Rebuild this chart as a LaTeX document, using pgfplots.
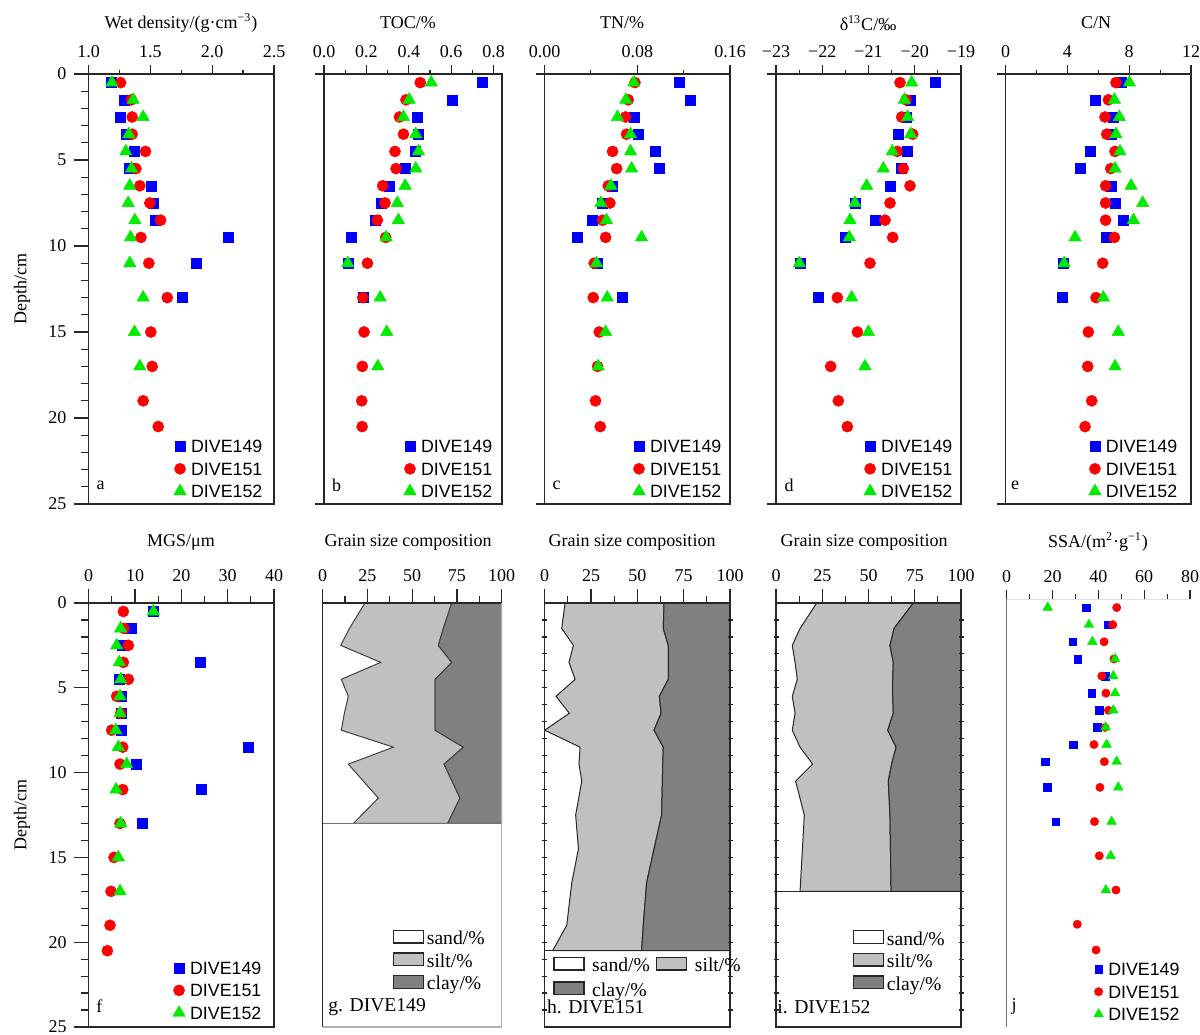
\documentclass[border=0pt]{standalone}
\usepackage{fontspec}
\setmainfont{Liberation Serif}
\setsansfont{Liberation Sans}
\usepackage{pgfplots}
\pgfplotsset{compat=1.18}
\definecolor{mblue}{RGB}{0,0,255}
\definecolor{mred}{RGB}{255,0,0}
\definecolor{mgreen}{RGB}{0,235,0}
\definecolor{silt}{RGB}{192,192,192}
\definecolor{clay}{RGB}{128,128,128}
\newcommand\tf{\fontsize{9pt}{10.5pt}\selectfont}
\newcommand\lf{\sffamily\fontsize{8.9pt}{10pt}\selectfont}
\newcommand\gf{\fontsize{9.8pt}{11pt}\selectfont}
\pgfplotsset{
 base/.style={scale only axis, anchor=north west, y dir=reverse, ymin=0, ymax=25,
   axis line style={line width=0.7pt, black!85}, tick style={line width=0.6pt, black!85},
   xtick pos=top, xticklabel pos=upper, ytick pos=left, tick align=outside, ytick=\empty,
   ticklabel style={font=\tf}, clip=false, minor x tick num=1},
 toprow/.style={base, height=215pt, major tick length=4.5pt, minor tick length=2.25pt},
 botrow/.style={base, height=212pt, major tick length=7pt, minor tick length=3.5pt},
 s149/.style={only marks, mark=square*, mark size=2.5pt, color=mblue, mark options={line width=0.2pt}},
 s151/.style={only marks, mark=*, mark size=2.8pt, color=mred, mark options={line width=0.2pt}},
 s152/.style={only marks, mark=triangle*, mark size=3.6pt, color=mgreen, mark options={line width=0.2pt}},
 sleg/.style={legend image code/.code={\draw[##1] plot coordinates {(0pt,0pt)};},
   legend cell align=left,
   legend style={draw=none, fill=none, inner sep=0pt, outer sep=0pt, font=\lf, row sep=2.75pt,
     nodes={inner xsep=1pt, inner ysep=1pt, text height=6.5pt, text depth=0pt},
     /tikz/every odd column/.append style={column sep=1.4pt}}},
 gleg/.style={legend cell align=left,
   legend style={draw=none, fill=none, inner sep=0pt, outer sep=0pt, font=\gf, row sep=1.75pt,
     nodes={inner xsep=1pt, inner ysep=0pt, text height=7pt, text depth=2pt},
     /tikz/every odd column/.append style={column sep=0.4pt}}},
 yov/.style={scale only axis, anchor=north west, y dir=reverse, ymin=0, ymax=25, xmin=0, xmax=1,
   hide x axis, axis line style={draw=none}, ytick={0,5,...,25}, yticklabels={0,5,10,15,20,25},
   minor ytick={1,2,3,4,6,7,8,9,11,12,13,14,16,17,18,19,21,22,23,24},
   ytick pos=left, tick align=outside, major tick length=7.5pt, minor tick length=3.8pt,
   tick style={line width=0.6pt, black!85}, yticklabel style={font=\tf}},
 ysmall/.style={scale only axis, anchor=north west, y dir=reverse, ymin=0, ymax=25, xmin=0, xmax=1,
   hide x axis, axis line style={draw=none}, ytick={1,...,24}, yticklabel=\empty,
   ytick pos=both, tick align=center, major tick length=2.5pt, tick style={line width=0.6pt, black!85}},
}
\newcommand\boxlegend{%
 \addlegendimage{legend image code/.code={\draw[fill=white,draw=black!85,line width=0.7pt] (0pt,-1.7pt) rectangle (15pt,4.7pt);}}
 \addlegendentry{sand/\%}
 \addlegendimage{legend image code/.code={\draw[fill=silt,draw=black!85,line width=0.7pt] (0pt,-1.7pt) rectangle (15pt,4.7pt);}}
 \addlegendentry{silt/\%}
 \addlegendimage{legend image code/.code={\draw[fill=clay,draw=black!85,line width=0.7pt] (0pt,-1.7pt) rectangle (15pt,4.7pt);}}
 \addlegendentry{clay/\%}}
\begin{document}
\begin{tikzpicture}
\useasboundingbox (0pt,0pt) rectangle (600pt,-517pt);
% ---------------- a
\begin{axis}[toprow, at={(44.25pt,-37pt)}, width=92.75pt, xmin=1, xmax=2.5,
  xtick={1,1.5,2,2.5}, xticklabels={1.0,1.5,2.0,2.5}, sleg,
  legend style={at={(axis description cs:0.46,0.154)}, anchor=north west}]
\addplot[s149] coordinates {(1.186,0.5)(1.286,1.5)(1.259,2.5)(1.302,3.5)(1.367,4.5)(1.33,5.5)(1.51,6.5)(1.52,7.5)(1.537,8.5)(2.133,9.5)(1.869,11)(1.755,13)};
\addplot[s151] coordinates {(1.259,0.5)(1.348,1.5)(1.353,2.5)(1.353,3.5)(1.461,4.5)(1.383,5.5)(1.415,6.5)(1.496,7.5)(1.583,8.5)(1.424,9.5)(1.488,11)(1.637,13)(1.504,15)(1.515,17)(1.442,19)(1.564,20.5)};
\addplot[s152] coordinates {(1.189,0.5)(1.361,1.5)(1.442,2.5)(1.326,3.5)(1.302,4.5)(1.348,5.5)(1.334,6.5)(1.321,7.5)(1.375,8.5)(1.34,9.5)(1.334,11)(1.442,13)(1.372,15)(1.415,17)};
\legend{DIVE149,DIVE151,DIVE152}
\end{axis}
\begin{axis}[yov, at={(44.25pt,-37pt)}, width=92.75pt, height=215pt]
\end{axis}
% ---------------- b
\begin{axis}[toprow, at={(162pt,-37pt)}, width=89pt, xmin=0, xmax=0.84,
  xtick={0,0.2,0.4,0.6,0.8}, xticklabels={0.0,0.2,0.4,0.6,0.8}, ytick={0,25}, yticklabels={,}, sleg,
  legend style={at={(axis description cs:0.448,0.154)}, anchor=north west}]
\addplot[s149] coordinates {(0.745,0.5)(0.603,1.5)(0.441,2.5)(0.443,3.5)(0.43,4.5)(0.383,5.5)(0.309,6.5)(0.272,7.5)(0.241,8.5)(0.128,9.5)(0.112,11)(0.183,13)};
\addplot[s151] coordinates {(0.454,0.5)(0.387,1.5)(0.356,2.5)(0.375,3.5)(0.335,4.5)(0.34,5.5)(0.277,6.5)(0.288,7.5)(0.252,8.5)(0.291,9.5)(0.205,11)(0.183,13)(0.189,15)(0.181,17)(0.178,19)(0.18,20.5)};
\addplot[s152] coordinates {(0.506,0.5)(0.402,1.5)(0.375,2.5)(0.433,3.5)(0.446,4.5)(0.433,5.5)(0.383,6.5)(0.346,7.5)(0.351,8.5)(0.293,9.5)(0.112,11)(0.265,13)(0.296,15)(0.254,17)};
\legend{DIVE149,DIVE151,DIVE152}
\end{axis}
% ---------------- c
\begin{axis}[toprow, at={(272.25pt,-37pt)}, width=92.75pt, xmin=0, xmax=0.16,
  xtick={0,0.08,0.16}, xticklabels={0.00,0.08,0.16}, ytick={0,25}, yticklabels={,}, sleg,
  legend style={at={(axis description cs:0.476,0.154)}, anchor=north west}]
\addplot[s149] coordinates {(0.1163,0.5)(0.1255,1.5)(0.0771,2.5)(0.0809,3.5)(0.0958,4.5)(0.099,5.5)(0.0587,6.5)(0.0501,7.5)(0.0414,8.5)(0.0285,9.5)(0.0458,11)(0.0673,13)};
\addplot[s151] coordinates {(0.078,0.5)(0.0722,1.5)(0.0699,2.5)(0.0708,3.5)(0.0587,4.5)(0.0622,5.5)(0.055,6.5)(0.0564,7.5)(0.0501,8.5)(0.0527,9.5)(0.0429,11)(0.042,13)(0.0472,15)(0.0458,17)(0.044,19)(0.0481,20.5)};
\addplot[s152] coordinates {(0.0771,0.5)(0.0702,1.5)(0.063,2.5)(0.0742,3.5)(0.0742,4.5)(0.0751,5.5)(0.0573,6.5)(0.0486,7.5)(0.0535,8.5)(0.0837,9.5)(0.0449,11)(0.0541,13)(0.0527,15)(0.0463,17)};
\legend{DIVE149,DIVE151,DIVE152}
\end{axis}
% ---------------- d
\begin{axis}[toprow, at={(388pt,-37pt)}, width=92.5pt, xmin=-23, xmax=-19,
  xtick={-23,-22,-21,-20,-19}, xticklabels={−23,−22,−21,−20,−19}, ytick={0,25}, yticklabels={,}, sleg,
  legend style={at={(axis description cs:0.475,0.154)}, anchor=north west}]
\addplot[s149] coordinates {(-19.562,0.5)(-20.103,1.5)(-20.19,2.5)(-20.355,3.5)(-20.16,4.5)(-20.283,5.5)(-20.535,6.5)(-21.292,7.5)(-20.86,8.5)(-21.508,9.5)(-22.481,11)(-22.085,13)};
\addplot[s151] coordinates {(-20.319,0.5)(-20.19,1.5)(-20.283,2.5)(-20.045,3.5)(-20.377,4.5)(-20.247,5.5)(-20.103,6.5)(-20.535,7.5)(-20.643,8.5)(-20.477,9.5)(-20.968,11)(-21.674,13)(-21.241,15)(-21.818,17)(-21.652,19)(-21.458,20.5)};
\addplot[s152] coordinates {(-20.067,0.5)(-20.225,1.5)(-20.153,2.5)(-20.088,3.5)(-20.485,4.5)(-20.679,5.5)(-21.04,6.5)(-21.292,7.5)(-21.4,8.5)(-21.414,9.5)(-22.495,11)(-21.364,13)(-21.004,15)(-21.076,17)};
\legend{DIVE149,DIVE151,DIVE152}
\end{axis}
% ---------------- e
\begin{axis}[toprow, at={(502.85pt,-37pt)}, width=92.65pt, xmin=0, xmax=12,
  xtick={0,4,8,12}, xticklabels={0,4,8,12}, ytick={0,25}, yticklabels={,}, sleg,
  legend style={at={(axis description cs:0.448,0.154)}, anchor=north west}]
\addplot[s149] coordinates {(7.51,0.5)(5.78,1.5)(6.97,2.5)(6.86,3.5)(5.5,4.5)(4.81,5.5)(6.8,6.5)(7.12,7.5)(7.62,8.5)(6.54,9.5)(3.73,11)(3.67,13)};
\addplot[s151] coordinates {(7.14,0.5)(6.65,1.5)(6.43,2.5)(6.54,3.5)(7.08,4.5)(6.8,5.5)(6.47,6.5)(6.47,7.5)(6.47,8.5)(7.04,9.5)(6.28,11)(5.85,13)(5.35,15)(5.31,17)(5.57,19)(5.14,20.5)};
\addplot[s152] coordinates {(8.01,0.5)(7.04,1.5)(7.36,2.5)(7.14,3.5)(7.4,4.5)(7.08,5.5)(8.12,6.5)(8.87,7.5)(8.27,8.5)(4.49,9.5)(3.78,11)(6.32,13)(7.29,15)(7.08,17)};
\legend{DIVE149,DIVE151,DIVE152}
\end{axis}
% ---------------- f
\begin{axis}[botrow, at={(44.35pt,-301.5pt)}, width=92.65pt, xmin=0, xmax=40,
  xtick={0,10,20,30,40}, xticklabels={0,10,20,30,40}, sleg,
  legend style={at={(axis description cs:0.454,0.1595)}, anchor=north west}]
\addplot[s149] coordinates {(13.96,0.5)(9.28,1.5)(7.3,2.5)(24.0,3.5)(6.6,4.5)(7.1,5.5)(7.1,6.5)(7.1,7.5)(34.5,8.5)(10.2,9.5)(24.2,11)(11.65,13)};
\addplot[s151] coordinates {(7.48,0.5)(7.6,1.5)(8.56,2.5)(7.48,3.5)(8.56,4.5)(6.04,5.5)(6.9,6.5)(4.96,7.5)(7.34,8.5)(6.76,9.5)(7.34,11)(6.76,13)(5.47,15)(4.82,17)(4.6,19)(4.03,20.5)};
\addplot[s152] coordinates {(13.96,0.5)(6.9,1.5)(6.04,2.5)(6.6,3.5)(6.9,4.5)(6.76,5.5)(6.76,6.5)(5.83,7.5)(6.4,8.5)(8.2,9.5)(5.9,11)(6.9,13)(6.4,15)(6.76,17)};
\legend{DIVE149,DIVE151,DIVE152}
\end{axis}
\begin{axis}[yov, at={(44.35pt,-301.5pt)}, width=92.65pt, height=212pt]
\end{axis}
% ---------------- g
\begin{axis}[botrow, at={(161.35pt,-301.5pt)}, width=89.5pt, xmin=0, xmax=100,
  xtick={0,25,50,75,100}, xticklabels={0,25,50,75,100}, axis on top,
  axis line style={draw=none}, gleg,
  legend style={at={(axis description cs:0.391,0.2296)}, anchor=north west}]
\addplot[fill=silt, draw=black!75, line width=0.5pt, forget plot] coordinates {(23.6,0)(14.9,1.5)(10.1,2.5)(32.4,3.5)(10.4,4.5)(14.3,5.5)(12.1,6.5)(10.4,7.5)(39.5,8.5)(14.3,9.5)(31.1,11.5)(17.1,13)
 (69.8,13)(76.7,11.5)(67.8,9.5)(78.6,8.5)(62.8,7.5)(62.8,6.5)(62.8,5.5)(62.8,4.5)(72.1,3.5)(64.6,2.5)(67.4,1.5)(72.1,0)} -- cycle;
\addplot[fill=clay, draw=black!75, line width=0.5pt, forget plot] coordinates {(72.1,0)(67.4,1.5)(64.6,2.5)(72.1,3.5)(62.8,4.5)(62.8,5.5)(62.8,6.5)(62.8,7.5)(78.6,8.5)(67.8,9.5)(76.7,11.5)(69.8,13)(100,13)(100,0)} -- cycle;
\addplot[draw=black!55, line width=0.6pt, forget plot] coordinates {(0,13)(100,13)};
\boxlegend
\draw[black!85, line width=0.7pt] (axis description cs:0,0) -- (axis description cs:0,1) -- (axis description cs:1,1);
\draw[black!30, line width=0.6pt] (axis description cs:1,1) -- (axis description cs:1,0) -- (axis description cs:0,0);
\end{axis}
% ---------------- h
\begin{axis}[botrow, at={(272.35pt,-301.5pt)}, width=92.65pt, xmin=0, xmax=100,
  xtick={0,25,50,75,100}, xticklabels={0,25,50,75,100}, axis on top, gleg, legend columns=2,
  legend style={at={(axis description cs:0.046,0.166)}, anchor=north west, row sep=2.7pt,
   /tikz/every odd column/.append style={column sep=2.8pt},
   /tikz/every even column/.append style={column sep=2pt}}]
\addplot[fill=silt, draw=black!85, line width=0.5pt, forget plot] coordinates {(11.0,0)(9.2,1.5)(15.5,2.5)(13.1,3.5)(16.4,4.5)(6.1,5.5)(13.3,6.5)(0,7.5)(19.1,8.5)(18.5,9.5)(20.0,10.5)(16.7,12.5)(18.2,14.5)(14.6,16.5)(11.9,19)(4.3,20.5)
 (52.3,20.5)(53.2,19)(55.0,16.5)(59.0,14.5)(63.1,12.5)(63.5,10.5)(63.7,9.5)(64.0,8.5)(59.0,7.5)(62.8,6.5)(61.9,5.5)(66.7,4.5)(66.7,3.5)(66.7,2.5)(64.0,1.5)(64.4,0)} -- cycle;
\addplot[fill=clay, draw=black!85, line width=0.5pt, forget plot] coordinates {(64.4,0)(64.0,1.5)(66.7,2.5)(66.7,3.5)(66.7,4.5)(61.9,5.5)(62.8,6.5)(59.0,7.5)(64.0,8.5)(63.7,9.5)(63.5,10.5)(63.1,12.5)(59.0,14.5)(55.0,16.5)(53.2,19)(52.3,20.5)(100,20.5)(100,0)} -- cycle;
\addplot[draw=black!85, line width=0.6pt, forget plot] coordinates {(0,20.5)(100,20.5)};
\boxlegend
\end{axis}
\begin{axis}[ysmall, at={(272.35pt,-301.5pt)}, width=92.65pt, height=212pt]
\end{axis}
% ---------------- i
\begin{axis}[botrow, at={(388pt,-301.5pt)}, width=92.5pt, xmin=0, xmax=100,
  xtick={0,25,50,75,100}, xticklabels={0,25,50,75,100}, axis on top, gleg,
  legend style={at={(axis description cs:0.415,0.2286)}, anchor=north west}]
\addplot[fill=silt, draw=black!85, line width=0.5pt, forget plot] coordinates {(22.0,0)(13.0,1.5)(8.8,2.5)(10.3,3.5)(11.5,4.5)(8.8,5.5)(10.3,6.5)(8.8,7.5)(13.0,8.5)(19.8,9.5)(10.6,10.5)(15.3,12.5)(13.0,17)
 (62.2,17)(61.6,12.5)(60.7,10.5)(62.5,9.5)(64.9,8.5)(60.4,7.5)(63.4,6.5)(63.1,5.5)(63.1,4.5)(63.4,3.5)(61.6,2.5)(63.8,1.5)(74.2,0)} -- cycle;
\addplot[fill=clay, draw=black!85, line width=0.5pt, forget plot] coordinates {(74.2,0)(63.8,1.5)(61.6,2.5)(63.4,3.5)(63.1,4.5)(63.1,5.5)(63.4,6.5)(60.4,7.5)(64.9,8.5)(62.5,9.5)(60.7,10.5)(61.6,12.5)(62.2,17)(100,17)(100,0)} -- cycle;
\addplot[draw=black!85, line width=0.6pt, forget plot] coordinates {(0,17)(100,17)};
\boxlegend
\end{axis}
\begin{axis}[ysmall, at={(388pt,-301.5pt)}, width=92.5pt, height=212pt]
\end{axis}
% ---------------- j
\begin{axis}[botrow, at={(503.35pt,-299.5pt)}, width=91.65pt, height=214pt, xmin=0, xmax=80,
  major tick length=4.5pt, minor tick length=2.5pt,
  xtick={0,20,40,60,80}, xticklabels={0,20,40,60,80}, axis line style={draw=none}, sleg,
  s149/.append style={mark size=1.9pt}, s151/.append style={mark size=2.1pt}, s152/.append style={mark size=2.8pt},
  legend style={at={(axis description cs:0.475,0.155)}, anchor=north west}]
\addplot[s149] coordinates {(34.6,0.5)(44.4,1.5)(28.8,2.5)(31.0,3.5)(42.9,4.5)(37.1,5.5)(40.4,6.5)(39.6,7.5)(29.1,8.5)(16.7,9.5)(17.7,11)(21.4,13)};
\addplot[s151] coordinates {(48.0,0.5)(46.3,1.5)(42.5,2.5)(46.8,3.5)(41.5,4.5)(43.3,5.5)(44.4,6.5)(42.9,7.5)(38.1,8.5)(42.6,9.5)(40.7,11)(38.3,13)(40.4,15)(47.7,17)(30.8,19)(39.0,20.5)};
\addplot[s152] coordinates {(17.9,0.5)(35.9,1.5)(37.4,2.5)(47.3,3.5)(46.5,4.5)(47.3,5.5)(46.5,6.5)(43.2,7.5)(43.6,8.5)(48.0,9.5)(48.7,11)(45.8,13)(45.4,15)(43.3,17)};
\legend{DIVE149,DIVE151,DIVE152}
\draw[black!55, line width=0.6pt] (axis description cs:0,0) -- (axis description cs:0,1);
\draw[black!12, line width=0.5pt] (axis description cs:0,1) -- (axis description cs:1,1);
\end{axis}
% ---------------- titles and labels
\begin{scope}[every node/.style={font=\tf}]
\node at (90.5pt,-11.5pt) {Wet density/(g·cm\textsuperscript{−3})};
\node at (204pt,-11.5pt) {TOC/\%};
\node at (311pt,-11.5pt) {TN/\%};
\node at (434pt,-11.5pt) {δ\textsuperscript{13}C/‰};
\node at (548pt,-11.5pt) {C/N};
\node at (90.5pt,-271pt) {MGS/μm};
\node at (204pt,-271pt) {Grain size composition};
\node at (316pt,-271pt) {Grain size composition};
\node at (432pt,-271pt) {Grain size composition};
\node at (549pt,-271pt) {SSA/(m\textsuperscript{2}·g\textsuperscript{−1})};
\node[rotate=90] at (11pt,-144.5pt) {Depth/cm};
\node[rotate=90] at (11pt,-407.5pt) {Depth/cm};
\node at (50.35pt,-242.5pt) {a};
\node at (168.35pt,-242.5pt) {b};
\node at (278.35pt,-242.5pt) {c};
\node at (394.5pt,-242.5pt) {d};
\node at (507.5pt,-242.5pt) {e};
\node at (49.65pt,-503.3pt) {f};
\node at (507pt,-503.3pt) {j};
\end{scope}
\node[font=\gf, anchor=west, inner sep=0pt] at (164pt,-503.5pt) {g. DIVE149};
\node[font=\gf, anchor=west, inner sep=0pt] at (273.35pt,-503.5pt) {h. DIVE151};
\node[font=\gf, anchor=west, inner sep=0pt] at (388.5pt,-503.5pt) {i. DIVE152};
\end{tikzpicture}
\end{document}
